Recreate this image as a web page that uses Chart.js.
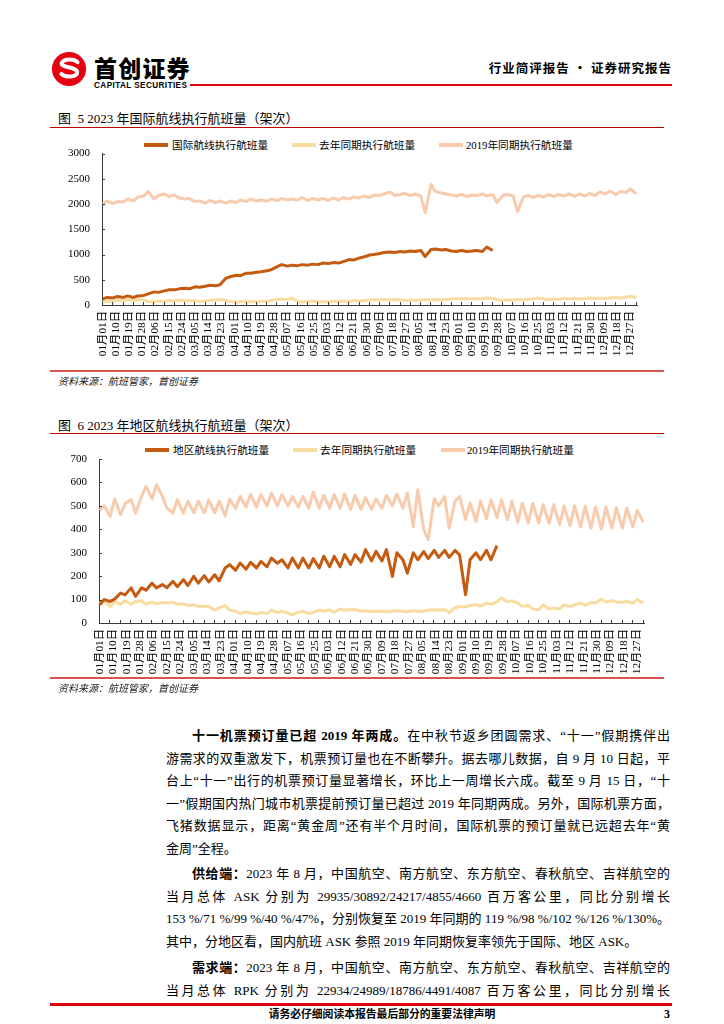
<!DOCTYPE html>
<html lang="zh-CN">
<head>
<meta charset="utf-8">
<title>首创证券 行业简评报告</title>
<script src="https://cdn.jsdelivr.net/npm/chart.js@4.4.1/dist/chart.umd.min.js"></script>
<style>
  html, body { margin: 0; padding: 0; background: #fff; }
  body {
    position: relative; width: 724px; height: 1024px; overflow: hidden;
    font-family: "Liberation Serif", "Noto Sans CJK SC", serif; color: #000;
  }
  .a { position: absolute; white-space: nowrap; }
  .rule { position: absolute; }
  #logo { position: absolute; left: 51px; top: 51px; width: 36px; height: 36px; }
  #brand { left: 94px; top: 53px; font: 900 23px/28px "Noto Sans CJK SC", sans-serif; letter-spacing: 1.2px; }
  #brand-en { left: 94px; top: 81px; font: 700 8.2px/9px "Liberation Sans", Arial, sans-serif; letter-spacing: .4px; }
  #doc-type { right: 52px; top: 60px; font: 700 12.5px/16px "Noto Sans CJK SC", sans-serif; letter-spacing: 1px; }
  .fig-title { left: 58px; font: 13px/17px "Liberation Serif", "Noto Sans CJK SC", serif; }
  .lg { position: absolute; height: 14px; font: 10.7px/14px "Liberation Serif", "Noto Sans CJK SC", serif; white-space: nowrap; }
  .lg i { position: absolute; top: 5px; left: 0; width: 24px; height: 3.5px; }
  .lg span { position: absolute; top: 0; }
  .src { left: 58px; font: italic 10px/13px "Liberation Serif", "Noto Sans CJK SC", serif; color: #222; }
  canvas { position: absolute; }
  .para { position: absolute; left: 166px; width: 504px; font: 13px/22.6px "Liberation Serif", "Noto Sans CJK SC", serif; }
  .para div { text-align: justify; text-align-last: justify; white-space: nowrap; }
  .para div.last { text-align-last: left; }
  .para div.first { text-indent: 26px; }
  .para b { font-weight: 700; }
  #footer { left: 0; width: 764px; text-align: center; font: 700 10.8px/14px "Liberation Serif", "Noto Sans CJK SC", serif; }
  #page-no { left: 664px; font: 700 12px/14px "Liberation Serif", serif; }
</style>
</head>
<body>

<!-- ── Header ─────────────────────────────────────────────────── -->
<svg id="logo" viewBox="0 0 40 40">
  <circle cx="20" cy="20" r="19" fill="#E50012"/>
  <path d="M29.5 12.5c-3.5-4-14.5-4.5-17.5 0.5c-3 5.5 17 4.5 17 10.5c0 5.5-12.5 6.5-17.5 2" fill="none" stroke="#fff" stroke-width="4.4" stroke-linecap="round"/>
</svg>
<div class="a" id="brand">首创证券</div>
<div class="a" id="brand-en">CAPITAL SECURITIES</div>
<div class="rule" style="left:190px; top:84px; width:482px; height:2px; background:#E00010;"></div>
<div class="a" id="doc-type">行业简评报告 · 证券研究报告</div>

<!-- ── Figure 5 ───────────────────────────────────────────────── -->
<div class="a fig-title" style="top:110px;">图&nbsp; 5 2023 年国际航线执行航班量（架次）</div>
<div class="rule" style="left:50px; top:127px; width:614px; height:1px; background:#C00000;"></div>
<div id="legend-intl"></div>
<canvas id="chart-intl" width="614" height="230" style="left:50px; top:135px;"></canvas>
<div class="rule" style="left:50px; top:370px; width:614px; height:2px; background:#D9534F;"></div>
<div class="a src" style="top:375px;">资料来源：航班管家，首创证券</div>

<!-- ── Figure 6 ───────────────────────────────────────────────── -->
<div class="a fig-title" style="top:417px;">图&nbsp; 6 2023 年地区航线执行航班量（架次）</div>
<div class="rule" style="left:50px; top:433px; width:614px; height:1px; background:#C00000;"></div>
<div id="legend-reg"></div>
<canvas id="chart-reg" width="614" height="240" style="left:50px; top:440px;"></canvas>
<div class="rule" style="left:50px; top:677px; width:614px; height:2px; background:#D9534F;"></div>
<div class="a src" style="top:682px;">资料来源：航班管家，首创证券</div>

<!-- ── Body text ──────────────────────────────────────────────── -->
<div class="para" style="top:725px;">
  <div class="first"><b>十一机票预订量已超 2019 年两成。</b>在中秋节返乡团圆需求、“十一”假期携伴出</div>
  <div>游需求的双重激发下，机票预订量也在不断攀升。据去哪儿数据，自 9 月 10 日起，平</div>
  <div>台上“十一”出行的机票预订量显著增长，环比上一周增长六成。截至 9 月 15 日，“十</div>
  <div>一”假期国内热门城市机票提前预订量已超过 2019 年同期两成。另外，国际机票方面，</div>
  <div>飞猪数据显示，距离“黄金周”还有半个月时间，国际机票的预订量就已远超去年“黄</div>
  <div class="last">金周”全程。</div>
</div>
<div class="para" style="top:863px;">
  <div class="first"><b>供给端：</b>2023 年 8 月，中国航空、南方航空、东方航空、春秋航空、吉祥航空的</div>
  <div>当月总体 ASK 分别为 29935/30892/24217/4855/4660 百万客公里，同比分别增长</div>
  <div>153 %/71 %/99 %/40 %/47%，分别恢复至 2019 年同期的 119 %/98 %/102 %/126 %/130%。</div>
  <div class="last">其中，分地区看，国内航班 ASK 参照 2019 年同期恢复率领先于国际、地区 ASK。</div>
</div>
<div class="para" style="top:957px;">
  <div class="first"><b>需求端：</b>2023 年 8 月，中国航空、南方航空、东方航空、春秋航空、吉祥航空的</div>
  <div>当月总体 RPK 分别为 22934/24989/18786/4491/4087 百万客公里，同比分别增长</div>
</div>

<!-- ── Footer ─────────────────────────────────────────────────── -->
<div class="rule" style="left:50px; top:1003px; width:622px; height:3px; background:#E00010;"></div>
<div class="a" id="footer" style="top:1007px;">请务必仔细阅读本报告最后部分的重要法律声明</div>
<div class="a" id="page-no" style="top:1007px;">3</div>

<script>
"use strict";

// ── Colours / fonts ──────────────────────────────────────────────
const DARK   = "#C55A11";
const LAST   = "#F9DCA0";
const Y2019  = "#F8CBAD";
const AXIS   = "#3a3a3a";
const COLORS = [DARK, LAST, Y2019];
const FONT   = "'Liberation Serif', 'Noto Sans CJK SC', serif";

Chart.defaults.font.family = FONT;
Chart.defaults.font.size   = 11;
Chart.defaults.color       = "#000";

// ── Data ─────────────────────────────────────────────────────────
// x tick labels (one every 9 days, first is day 1)
const TICK_LABELS = [
  "01月01日","01月10日","01月19日","01月28日","02月06日","02月15日","02月24日",
  "03月05日","03月14日","03月23日","04月01日","04月10日","04月19日","04月28日",
  "05月07日","05月16日","05月25日","06月03日","06月12日","06月21日","06月30日",
  "07月09日","07月18日","07月27日","08月05日","08月14日","08月23日","09月01日",
  "09月10日","09月19日","09月28日","10月07日","10月16日","10月25日","11月03日",
  "11月12日","11月21日","11月30日","12月09日","12月18日","12月27日"
];

// day of year of each sample (two samples a week)
const DAYS = [
    1,   4,   8,  11,  15,  18,  22,  25,  29,  32,  36,  39,  43,  46,
   50,  53,  57,  60,  64,  67,  71,  74,  78,  81,  85,  88,  92,  95,
   99, 102, 106, 109, 113, 116, 120, 123, 127, 130, 134, 137, 141, 144,
  148, 151, 155, 158, 162, 165, 169, 172, 176, 179, 183, 186, 190, 193,
  197, 200, 204, 207, 211, 214, 218, 221, 225, 228, 232, 235, 239, 242,
  246, 249, 253, 256, 260, 263, 267, 270, 274, 277, 281, 284, 288, 291,
  295, 298, 302, 305, 309, 312, 316, 319, 323, 326, 330, 333, 337, 340,
  344, 347, 351, 354, 358, 361, 365
];

// 图5 国际航线
const INTL_NAMES = ["国际航线执行航班量", "去年同期执行航班量", "2019年同期执行航班量"];
const INTL_2023 = [
   120, 150, 140, 170, 150, 180, 150, 180, 190, 220, 260, 250, 280, 300,
   300, 320, 330, 320, 360, 350, 370, 390, 380, 400, 530, 560, 590, 580,
   630, 630, 650, 660, 680, 700, 760, 800, 770, 790, 780, 800, 790, 810,
   800, 830, 820, 840, 830, 860, 900, 890, 930, 950, 990,1000,1020,1040,
  1050,1040,1060,1050,1070,1060,1080, 960,1100,1110,1090,1100,1070,1060,
  1080,1060,1070,1080,1060,1150,1080
];
const INTL_LAST = [
    60,  80,  70, 100,  80, 110,  90, 110, 100,  70,  60,  80,  70,  90,
    80, 100,  90,  80,  90,  70,  80,  90, 100, 110,  90,  70,  60,  70,
    60,  70,  60,  80,  70,  90, 110, 120, 110, 140,  70,  60,  70,  80,
    60,  70,  60,  80,  70,  80,  70,  90,  80,  90, 100, 110, 100, 110,
   100, 110, 100,  90, 100,  90, 100, 110, 100, 110, 100, 110, 120, 130,
   120, 130, 120, 130, 120, 140, 130, 110,  90, 100, 100, 110, 100, 110,
   120, 140, 120, 110, 120, 110, 130, 120, 130, 120, 130, 140, 130, 140,
   130, 140, 150, 140, 160, 170, 150
];
const INTL_2019 = [
  2000,2060,2010,2050,2040,2100,2060,2140,2160,2250,2100,2170,2200,2150,
  2180,2120,2100,2110,2050,2060,2020,2070,2030,2060,2020,2060,2030,2080,
  2050,2100,2060,2080,2060,2100,2070,2110,2080,2100,2080,2130,2070,2110,
  2080,2110,2070,2120,2080,2130,2100,2140,2120,2160,2130,2180,2170,2200,
  2240,2170,2190,2210,2170,2200,2160,1830,2390,2250,2220,2200,2180,2160,
  2190,2150,2180,2170,2200,2160,2190,2030,2170,2190,2160,1850,2140,2170,
  2130,2170,2140,2190,2150,2190,2160,2200,2150,2200,2160,2210,2170,2240,
  2200,2260,2190,2250,2230,2300,2200
];

// 图6 地区航线
const REG_NAMES = ["地区航线执行航班量", "去年同期执行航班量", "2019年同期执行航班量"];
const REG_2023 = [
   78, 100,  92, 102, 128, 120, 150, 114, 150, 140, 170, 150, 164, 150,
  178, 155, 185, 160, 199, 170, 202, 175, 206, 180, 235, 249, 225, 256,
  230, 259, 235, 263, 240, 277, 255, 270, 235, 277, 235, 277, 235, 275,
  235, 285, 240, 285, 240, 292, 250, 292, 260, 313, 265, 306, 265, 313,
  199, 300, 270, 213, 300, 270, 305, 275, 310, 280, 310, 280, 310, 290,
  121, 270, 300, 270, 310, 270, 330
];
const REG_LAST = [
   85,  95,  70,  90,  80,  95,  80,  92,  95,  80,  90,  82,  88,  85,
   88,  80,  82,  75,  78,  70,  72,  70,  55,  65,  74,  55,  50,  40,
   48,  43,  38,  45,  40,  55,  45,  50,  43,  35,  45,  50,  40,  45,
   55,  50,  57,  45,  60,  55,  58,  57,  50,  52,  48,  50,  50,  48,
   50,  52,  50,  48,  52,  50,  50,  55,  57,  55,  57,  45,  65,  71,
   68,  75,  78,  72,  85,  80,  90, 107,  90,  95,  85,  71,  75,  60,
   57,  78,  60,  64,  60,  78,  70,  78,  85,  75,  88,  85, 102,  90,
   95,  90,  88,  92,  85, 100,  85
];
const REG_2019 = [
  480, 500, 455, 530, 462, 510, 526, 470, 540, 583, 530, 590, 540, 490,
  470, 526, 470, 520, 470, 520, 470, 525, 470, 520, 458, 529, 490, 540,
  495, 548, 495, 548, 500, 555, 500, 548, 500, 540, 495, 540, 490, 558,
  490, 545, 490, 550, 490, 550, 485, 545, 485, 535, 485, 530, 490, 545,
  500, 550, 490, 555, 412, 569, 398, 356, 530, 500, 540, 405, 520, 540,
  441, 512, 434, 520, 445, 526, 450, 526, 440, 520, 430, 512, 427, 510,
  427, 505, 425, 505, 420, 500, 415, 500, 410, 498, 405, 495, 400, 495,
  405, 492, 405, 490, 410, 480, 430
];

// ── Helpers ──────────────────────────────────────────────────────
const $ = id => document.getElementById(id);
const pts = vals => vals.map((v, i) => ({ x: DAYS[i], y: v }));

// small inward tick marks, like the Excel original (x: every 7 days)
const innerTicks = {
  id: "innerTicks",
  afterDraw(chart, args, opts) {
    const { ctx, chartArea, scales } = chart;
    ctx.save();
    ctx.strokeStyle = AXIS;
    ctx.lineWidth = 1;
    ctx.beginPath();
    for (let v = 0; v <= scales.y.max; v += opts.yStep) {
      const py = Math.round(scales.y.getPixelForValue(v)) + 0.5;
      ctx.moveTo(chartArea.left, py);
      ctx.lineTo(chartArea.left + 3, py);
    }
    for (let d = 0.5; d <= 365.5; d += 7) {
      const px = Math.round(scales.x.getPixelForValue(d)) + 0.5;
      ctx.moveTo(px, chartArea.bottom);
      ctx.lineTo(px, chartArea.bottom - 3);
    }
    ctx.stroke();
    ctx.restore();
  }
};

function buildLegend(id, names, top, xs) {
  $(id).innerHTML = names.map((n, i) => `
    <div class="lg" style="left:${xs[i]}px; top:${top}px;">
      <i style="background:${COLORS[i]}"></i><span style="left:${xs[i + 3]}px">${n}</span>
    </div>`).join("");
}

function makeChart(id, names, series, yMax, yStep, box) {
  return new Chart($(id), {
    type: "line",
    data: {
      datasets: names.map((n, i) => ({
        label: n,
        data: pts(series[i]),
        borderColor: COLORS[i],
        borderWidth: 3,
        borderJoinStyle: "round",
        pointRadius: 0,
        tension: 0,
        fill: false
      }))
    },
    options: {
      responsive: false, animation: false, devicePixelRatio: 1,
      layout: { padding: { top: box.top, right: box.right, left: 0, bottom: 0 } },
      plugins: { legend: { display: false }, tooltip: { enabled: false }, innerTicks: { yStep } },
      scales: {
        x: {
          type: "linear", min: 0.5, max: 365.5,
          afterBuildTicks: ax => { ax.ticks = TICK_LABELS.map((_, i) => ({ value: 1 + 9 * i })); },
          afterFit: ax => { ax.height = box.xh; },
          ticks: { autoSkip: false, minRotation: 90, maxRotation: 90, padding: 6,
                   font: { size: 11.3 },
                   callback: (v, i) => TICK_LABELS[i] },
          grid: { display: false, drawTicks: false },
          border: { color: AXIS, width: 1 }
        },
        y: {
          min: 0, max: yMax,
          afterFit: ax => { ax.width = box.yw; },
          ticks: { stepSize: yStep, padding: 12, callback: v => String(v) },
          grid: { display: false, drawTicks: false },
          border: { color: AXIS, width: 1 }
        }
      }
    },
    plugins: [innerTicks]
  });
}

// ── Boot ─────────────────────────────────────────────────────────
buildLegend("legend-intl", INTL_NAMES, 138, [144, 292, 439, 28, 27, 27]);
buildLegend("legend-reg",  REG_NAMES,  443, [145, 293, 441, 28, 27, 26]);

makeChart("chart-intl", INTL_NAMES, [INTL_2023, INTL_LAST, INTL_2019], 3000, 500,
          { top: 17, right: 27, yw: 52, xh: 60 });
makeChart("chart-reg",  REG_NAMES,  [REG_2023, REG_LAST, REG_2019], 700, 100,
          { top: 19, right: 20, yw: 49, xh: 57 });
</script>
</body>
</html>
